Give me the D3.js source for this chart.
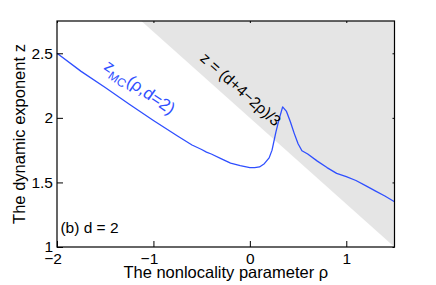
<!DOCTYPE html>
<meta charset="utf-8">
<script src="https://d3js.org/d3.v7.min.js"></script>
<style>
	body { margin: 0; background: #fff; }
	text { font-family: "Liberation Sans", Arial, sans-serif; }
</style>
<div id="my_dataviz"></div>

<script>
	// Monte Carlo estimate of z(rho) for d = 2
	var rho = [-2, -1.75, -1.5, -1.25, -1, -0.75, -0.6, -0.5, -0.45, -0.4, -0.3, -0.2, -0.1, 0, 0.05, 0.1, 0.15, 0.2, 0.23, 0.27, 0.3, 0.34, 0.38, 0.42, 0.46, 0.5, 0.54, 0.6, 0.7, 0.8, 0.9, 1.0, 1.1, 1.2, 1.3, 1.4, 1.5];
	var z_mc = [2.5, 2.36, 2.235, 2.105, 1.98, 1.86, 1.79, 1.755, 1.735, 1.72, 1.685, 1.65, 1.63, 1.615, 1.615, 1.62, 1.645, 1.69, 1.75, 1.89, 1.98, 2.085, 2.05, 1.97, 1.88, 1.8, 1.745, 1.72, 1.665, 1.615, 1.57, 1.545, 1.515, 1.475, 1.435, 1.395, 1.35];

	// axis setup
	var x_domain = [-2, 1.5], y_domain = [1, 2.75];
	var x_ticks = [-2, -1, 0, 1];
	var y_ticks = [1, 1.5, 2, 2.5];
	var dim = 2;

	// theoretical bound z = (d+4-2rho)/3
	var z_bound = (r) => (dim + 4 - 2*r)/3;

	var W = 436, H = 285;
	// plot frame (note: "top" is reserved on window, so prefix them)
	var p_left = 57, p_right = 394.5, p_top = 21, p_bottom = 247;
	var blue = "#2f4fff";

	var svg = d3.select("#my_dataviz")
		.append("svg")
		.attr("width", W)
		.attr("height", H);

	var x = d3.scaleLinear().domain(x_domain).range([p_left, p_right]);
	var y = d3.scaleLinear().domain(y_domain).range([p_bottom, p_top]);

	// Shaded region above the bound
	var r_top = (dim + 4 - 3*y_domain[1])/2;
	svg.append("path")
		.datum([[r_top, y_domain[1]], [x_domain[1], z_bound(x_domain[1])], [x_domain[1], y_domain[1]]])
		.attr("fill", "#e5e5e5")
		.attr("d", d3.line().x((d) => x(d[0])).y((d) => y(d[1])));

	// MC curve
	svg.append("path")
		.datum(rho.map((r, i) => [r, z_mc[i]]))
		.attr("fill", "none")
		.attr("stroke", blue)
		.attr("stroke-width", 1.3)
		.attr("stroke-linejoin", "round")
		.attr("d", d3.line().x((d) => x(d[0])).y((d) => y(d[1])));

	// Axes (ticks pointing inward, like matlab)
	var fmt = (v) => d3.format("")(v);
	var gx = svg.append("g")
		.attr("transform", "translate(0," + p_bottom + ")")
		.call(d3.axisBottom(x).tickValues(x_ticks).tickFormat(fmt).tickSizeInner(-6).tickSizeOuter(0).tickPadding(6));
	// keep the digit centred on the tick, minus hangs to the left
	gx.selectAll(".tick text").attr("dx", (d) => d < 0 ? "-0.29em" : 0);
	svg.append("g")
		.attr("transform", "translate(" + p_left + ",0)")
		.call(d3.axisLeft(y).tickValues(y_ticks).tickFormat(fmt).tickSizeInner(-6).tickSizeOuter(0).tickPadding(4));
	svg.append("g")
		.attr("transform", "translate(0," + p_top + ")")
		.call(d3.axisTop(x).tickValues(x_ticks).tickFormat("").tickSizeInner(-2).tickSizeOuter(0));
	svg.append("g")
		.attr("transform", "translate(" + p_right + ",0)")
		.call(d3.axisRight(y).tickValues(y_ticks).tickFormat("").tickSizeInner(-2).tickSizeOuter(0));
	svg.selectAll(".domain").remove();
	svg.selectAll(".tick line").attr("stroke", "#000");
	svg.selectAll(".tick text")
		.attr("fill", "#000")
		.style("font-size", "15.5px");

	// Frame
	svg.append("rect")
		.attr("x", p_left)
		.attr("y", p_top)
		.attr("width", p_right - p_left)
		.attr("height", p_bottom - p_top)
		.style("fill", "none")
		.style("stroke", "#000")
		.style("stroke-width", 1.2);

	// Axis labels
	svg.append("text")
		.attr("x", (p_left + p_right)/2)
		.attr("y", 278)
		.attr("text-anchor", "middle")
		.style("font-size", "16.5px")
		.text("The nonlocality parameter ρ");
	svg.append("text")
		.attr("transform", "translate(25," + (p_top + p_bottom)/2 + ") rotate(-90)")
		.attr("text-anchor", "middle")
		.style("font-size", "16.5px")
		.text("The dynamic exponent z");

	// Panel label
	svg.append("text")
		.attr("x", x(-1.965))
		.attr("y", 232.5)
		.style("font-size", "15.5px")
		.text("(b) d = 2");

	// Annotation along the bound
	var a_bound = Math.atan2(y(z_bound(1)) - y(z_bound(0)), x(1) - x(0)) * 180/Math.PI;
	svg.append("text")
		.attr("transform", "translate(" + x(-0.525) + "," + y(2.452) + ") rotate(" + a_bound + ")")
		.style("font-size", "15.5px")
		.text("z = (d+4−2ρ)/3");

	// Annotation along the MC curve
	var a_mc = Math.atan2(y(z_mc[4]) - y(z_mc[0]), x(rho[4]) - x(rho[0])) * 180/Math.PI;
	var lab = svg.append("text")
		.attr("transform", "translate(" + x(-1.522) + "," + y(2.382) + ") rotate(" + a_mc + ")")
		.attr("fill", blue)
		.style("font-size", "17px");
	lab.append("tspan").text("z");
	lab.append("tspan").attr("dy", 5).style("font-size", "12px").text("MC");
	lab.append("tspan").attr("dy", -5).text("(ρ,d=2)");
</script>
